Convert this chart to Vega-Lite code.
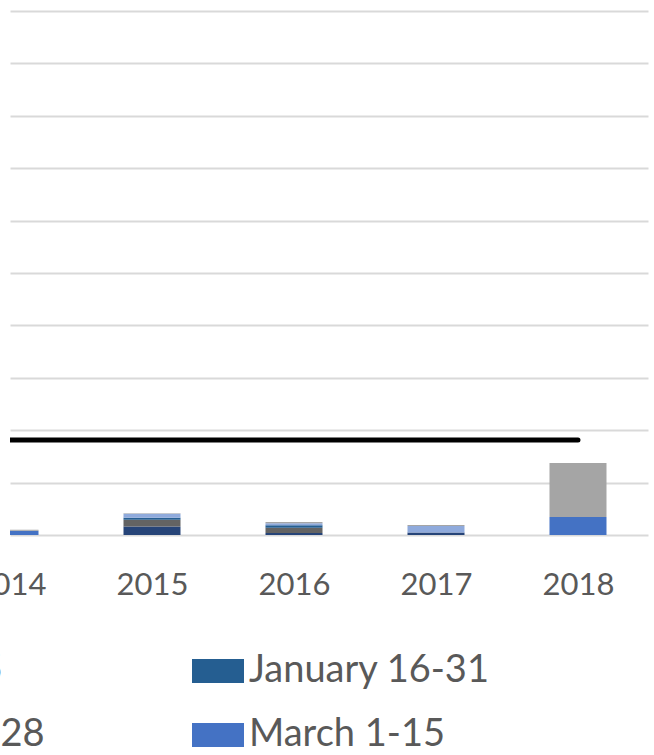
{
  "$schema": "https://vega.github.io/schema/vega-lite/v6.json",
  "autosize": {"type": "none"},
  "width": 638,
  "height": 535,
  "padding": {"left": 10, "top": 0, "right": 6, "bottom": 220},
  "background": "white",
  "config": {"view": {"stroke": null}, "font": "Lato"},
  "datasets": {
    "bars": [
      {"year": 2014, "period": "March 1-15", "idx": 6, "value": 0.82},
      {"year": 2014, "period": "March 16-31", "idx": 7, "value": 0.19},
      {"year": 2015, "period": "December 16-31", "idx": 1, "value": 1.6},
      {"year": 2015, "period": "January 1-15", "idx": 2, "value": 1.3},
      {"year": 2015, "period": "January 16-31", "idx": 3, "value": 0.4},
      {"year": 2015, "period": "February 1-15", "idx": 4, "value": 0.76},
      {"year": 2015, "period": "March 16-31", "idx": 7, "value": 0.1},
      {"year": 2016, "period": "December 16-31", "idx": 1, "value": 0.38},
      {"year": 2016, "period": "January 1-15", "idx": 2, "value": 1.0},
      {"year": 2016, "period": "January 16-31", "idx": 3, "value": 0.46},
      {"year": 2016, "period": "February 1-15", "idx": 4, "value": 0.38},
      {"year": 2016, "period": "March 16-31", "idx": 7, "value": 0.25},
      {"year": 2017, "period": "December 16-31", "idx": 1, "value": 0.5},
      {"year": 2017, "period": "February 1-15", "idx": 4, "value": 1.22},
      {"year": 2017, "period": "March 16-31", "idx": 7, "value": 0.19},
      {"year": 2018, "period": "March 1-15", "idx": 6, "value": 3.43},
      {"year": 2018, "period": "March 16-31", "idx": 7, "value": 10.3}
    ],
    "threshold": [
      {"year": 2014, "threshold": 18.13},
      {"year": 2015, "threshold": 18.13},
      {"year": 2016, "threshold": 18.13},
      {"year": 2017, "threshold": 18.13},
      {"year": 2018, "threshold": 18.13}
    ]
  },
  "layer": [
    {
      "data": {"name": "bars"},
      "mark": {"type": "bar", "width": 57, "clip": true},
      "encoding": {
        "x": {
          "field": "year", "type": "quantitative",
          "scale": {"domain": [2014, 2018.493], "nice": false, "zero": false, "padding": 0},
          "axis": {"values": [2014, 2015, 2016, 2017, 2018], "format": "d", "title": null, "grid": false, "domain": false, "ticks": false, "labelFont": "Lato", "labelFontSize": 31, "labelColor": "#595959", "labelPadding": 35, "labelFlush": false, "labelOverlap": false, "labelBound": false}
        },
        "y": {
          "field": "value", "type": "quantitative", "stack": "zero",
          "scale": {"domain": [0, 102.1], "nice": false},
          "axis": {"values": [0, 10, 20, 30, 40, 50, 60, 70, 80, 90, 100], "grid": true, "gridColor": "#d9d9d9", "gridWidth": 2, "labels": false, "ticks": false, "domain": false, "title": null}
        },
        "color": {
          "field": "period", "type": "nominal",
          "scale": {
            "domain": ["December 16-31", "January 1-15", "January 16-31", "February 1-15", "February 16-28", "March 1-15", "March 16-31"],
            "range": ["#264478", "#636363", "#255e91", "#8faadc", "#7cafdd", "#4472c4", "#a5a5a5"]
          },
          "legend": {
            "orient": "none", "legendX": -771, "legendY": 645, "columns": 3, "direction": "horizontal", "title": null,
            "symbolType": "M-1,-0.46H1V0.46H-1Z", "symbolSize": 2704, "symbolStrokeWidth": 0, "symbolOpacity": 1,
            "labelFont": "Lato", "labelFontSize": 38, "labelColor": "#595959", "labelLimit": 1000, "labelOffset": 5,
            "columnPadding": 146, "rowPadding": 19, "padding": 0
          }
        },
        "order": {"field": "idx", "type": "quantitative"}
      }
    },
    {
      "data": {"name": "threshold"},
      "mark": {"type": "line", "color": "black", "strokeWidth": 5, "strokeCap": "round", "clip": true},
      "encoding": {
        "x": {"field": "year", "type": "quantitative"},
        "y": {"field": "threshold", "type": "quantitative"}
      }
    }
  ]
}
